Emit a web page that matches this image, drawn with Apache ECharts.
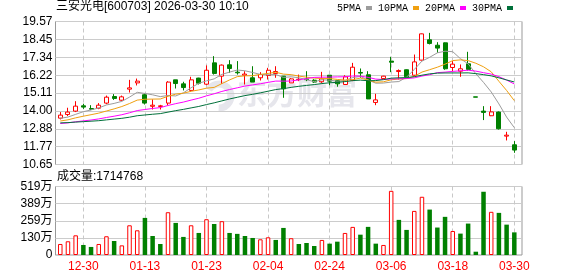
<!DOCTYPE html>
<html><head><meta charset="utf-8">
<script src="https://cdn.jsdelivr.net/npm/echarts@6/dist/echarts.min.js"></script>
<style>html,body{margin:0;padding:0;background:#fff}#c{width:578px;height:276px}</style>
</head><body><div id="c"></div>
<script>
// ---- data ----
const dates = ['12-25','12-26','12-29','12-30','12-31','01-05','01-06','01-07','01-08','01-09',
  '01-12','01-13','01-14','01-15','01-16','01-19','01-20','01-21','01-22','01-23',
  '01-26','01-27','01-28','01-29','01-30','02-02','02-03','02-04','02-05','02-06',
  '02-09','02-10','02-11','02-12','02-13','02-24','02-25','02-26','02-27','03-02',
  '03-03','03-04','03-05','03-06','03-09','03-10','03-11','03-12','03-13','03-16',
  '03-17','03-18','03-19','03-20','03-23','03-24','03-25','03-26','03-27','03-30'];
const opens = [13.54,13.77,13.98,14.31,14.14,14.16,14.48,14.89,14.66,15.35,
  15.74,15.00,14.28,14.27,14.48,15.93,15.68,15.27,16.04,15.66,
  16.99,16.16,16.87,16.41,16.22,16.06,16.06,16.20,16.33,16.16,
  15.74,15.94,15.98,15.91,15.81,16.22,15.89,15.64,15.91,16.39,
  16.25,14.52,16.01,17.10,16.45,16.56,16.22,17.16,18.43,18.09,
  18.24,16.70,16.47,16.93,14.87,13.98,13.69,13.92,12.42,11.88];
const closes = [13.73,13.92,14.29,14.23,14.10,14.35,14.85,14.77,14.87,15.43,
  15.85,14.48,14.35,14.31,15.79,15.70,15.45,15.93,15.72,16.53,
  16.33,16.85,16.64,16.37,16.29,15.79,16.26,16.53,16.45,15.37,
  15.99,15.97,15.94,15.79,15.99,15.85,15.68,16.12,16.72,16.35,
  14.74,14.68,16.16,17.03,16.51,16.12,17.05,18.80,18.20,17.91,
  16.62,16.91,16.62,16.58,14.85,13.90,13.93,12.88,12.48,11.55];
const lows = [13.46,13.67,13.92,14.12,14.04,14.10,14.41,14.68,14.62,15.14,
  15.58,14.39,14.08,14.08,14.35,15.39,15.27,15.18,15.64,15.60,
  16.26,15.68,16.37,16.26,15.64,15.79,15.89,15.95,16.06,14.81,
  15.74,15.85,15.85,15.74,15.74,15.60,15.50,15.64,15.85,16.06,
  14.74,14.35,15.99,16.41,15.95,16.04,16.16,17.14,18.14,17.62,
  16.56,16.47,16.12,16.51,14.85,13.42,13.67,12.83,12.15,11.38];
const highs = [13.92,14.19,14.60,14.44,14.35,14.48,14.95,15.04,14.95,15.93,
  16.01,15.08,14.71,14.37,15.85,15.93,15.81,16.12,16.06,16.83,
  17.41,16.89,17.16,17.10,16.47,16.78,16.41,16.68,16.78,16.16,
  16.04,16.26,16.47,15.97,16.43,16.22,15.89,16.22,16.99,16.64,
  16.47,15.06,16.18,17.37,16.58,16.58,17.51,18.82,18.86,18.28,
  18.26,17.10,16.89,17.68,14.87,14.29,14.29,13.96,12.69,12.11];
// volume in 万 (10k shares)
const volumes = [83.5,104,149,76,61,83.5,142,106,73,225,
  187,281,144,83.5,324,243,137,225,167,271,
  235,256,167,160,144,129,119,134,114,205,
  127,83.5,91,68,114,86,101,167,213,154,
  213,86,76,486,266,190,334,441,344,208,
  289,182,162,238,25,479,327,319,230,171.4768];
// closes before the visible window, estimated from the MA lines' starting levels
const priorCloses = [13.42,13.30,13.38,13.25,13.46,13.33,13.28,13.40,13.35,
  13.12,13.05,12.98,13.10,13.02,12.95,13.08,13.15,13.03,13.00,
  13.10,13.18,13.05,13.22,13.15,13.38,13.52,13.45,13.40,13.55];
const priceTicks = ['10.65','11.77','12.88','14.00','15.11','16.22','17.34','18.45','19.57'];
const volTicks = [0,129.7,259.4,389.1,518.8];
const labelIdx = [3,11,19,27,35,43,51,59];
const maPeriods = [5,10,20,30];
const maNames = ['5PMA','10PMA','20PMA','30PMA'];
const maColors = ['#9c9c9c','#f0a010','#ff00ff','#00703a'];
const stockTitle = '三安光电[600703] 2026-03-30 10:10';

// ---- build ----
const UP = '#ff0000', DOWN = '#008000';
const allCloses = priorCloses.concat(closes);
function ma(n){
  return closes.map((c,i)=>{
    const end = priorCloses.length + i;
    let s = 0; for (let k = end-n+1; k <= end; k++) s += allCloses[k];
    return [i, +(s/n).toFixed(3)];
  });
}
const LF = "'Liberation Sans','Noto Sans CJK SC',sans-serif";
const candleData = opens.map((o,i)=>[i, o, closes[i], lows[i], highs[i]]);
const volData = volumes.map((v,i)=>{
  const prev = i === 0 ? opens[0] : closes[i-1];
  const up = closes[i] >= prev;
  return {value:[i, v], itemStyle: up ? {color:'#fff', borderColor:UP, borderWidth:1} : {color:DOWN}};
});
const priceVals = priceTicks.map(Number);
function xAxisCfg(g, showLabel){
  return {type:'value', gridIndex:g, min:-0.62, max:60.0,
    axisLine:{show:false}, axisTick:{show:false, customValues:labelIdx},
    axisLabel:{show:showLabel, customValues:labelIdx, formatter:v=>dates[Math.round(v)],
      color:'#ff0000', fontSize:12, fontFamily:LF, margin:6},
    splitLine:{show:true, lineStyle:{color:'#c8c8c8', type:[4,3], width:1}}};
}
const chart = echarts.init(document.getElementById('c'), null, {renderer:'canvas'});
chart.setOption({
  animation:false,
  backgroundColor:'#fff',
  legend:{data:maNames, left:337, top:3, padding:0, align:'right', icon:'rect',
    itemWidth:6, itemHeight:4, itemGap:6, selectedMode:false,
    textStyle:{fontFamily:"'Liberation Mono',monospace", fontSize:10, color:'#000'}},
  grid:[
    {left:55.5, top:21.5, width:466.5, height:143, show:true, borderColor:'#999', borderWidth:1, backgroundColor:'transparent'},
    {left:55.5, top:186.5, width:466.5, height:68.5, show:true, borderColor:'#999', borderWidth:1, backgroundColor:'transparent'}
  ],
  xAxis:[xAxisCfg(0,false), xAxisCfg(1,true)],
  yAxis:[
    {type:'value', gridIndex:0, min:priceVals[0], max:priceVals[priceVals.length-1],
      axisLine:{show:false}, axisTick:{show:false, customValues:priceVals},
      axisLabel:{customValues:priceVals, formatter:v=>{
          let best=0; priceVals.forEach((p,k)=>{ if(Math.abs(p-v)<Math.abs(priceVals[best]-v)) best=k; });
          return priceTicks[best]; },
        color:'#000', fontSize:12, fontFamily:LF, margin:3},
      splitLine:{lineStyle:{color:'#cccccc', width:1}}},
    {type:'value', gridIndex:1, min:0, max:volTicks[4], interval:volTicks[1],
      axisLine:{show:false}, axisTick:{show:false},
      axisLabel:{formatter:v=> v===0 ? '0' : Math.round(v)+'万', color:'#000', fontSize:12, fontFamily:LF, margin:3},
      splitLine:{lineStyle:{color:'#cccccc', width:1}}}
  ],
  graphic:[
    {type:'text', left:56, top:1, z:10, style:{text:stockTitle, font:"12px "+LF, fill:'#000'}},
    {type:'text', left:57, top:171, z:10, style:{text:'成交量:'+Math.round(volumes[volumes.length-1]*10000), font:"12px "+LF, fill:'#000'}},
    {type:'arc', z:0, shape:{cx:219, cy:96, r:12, startAngle:-2.6, endAngle:1.6}, style:{stroke:'#e6e6ec', lineWidth:7, fill:null}},
    {type:'text', left:237, top:78, z:0, style:{text:'东方财富', font:"bold 30px 'Noto Sans CJK SC'", fill:'#e6e6ec'}}
  ],
  series:[
    {type:'candlestick', xAxisIndex:0, yAxisIndex:0, data:candleData, barWidth:4.5,
      itemStyle:{color:'#fff', color0:DOWN, borderColor:UP, borderColor0:DOWN, borderWidth:1},
      emphasis:{disabled:true}},
    ...maPeriods.map((n,k)=>({type:'line', name:maNames[k], xAxisIndex:0, yAxisIndex:0,
      data:ma(n), showSymbol:false, symbol:'none', color:maColors[k],
      lineStyle:{width:1, color:maColors[k]}, emphasis:{disabled:true}, z:3})),
    {type:'bar', xAxisIndex:1, yAxisIndex:1, data:volData, barWidth:4.5, emphasis:{disabled:true}}
  ]
});
</script></body></html>
